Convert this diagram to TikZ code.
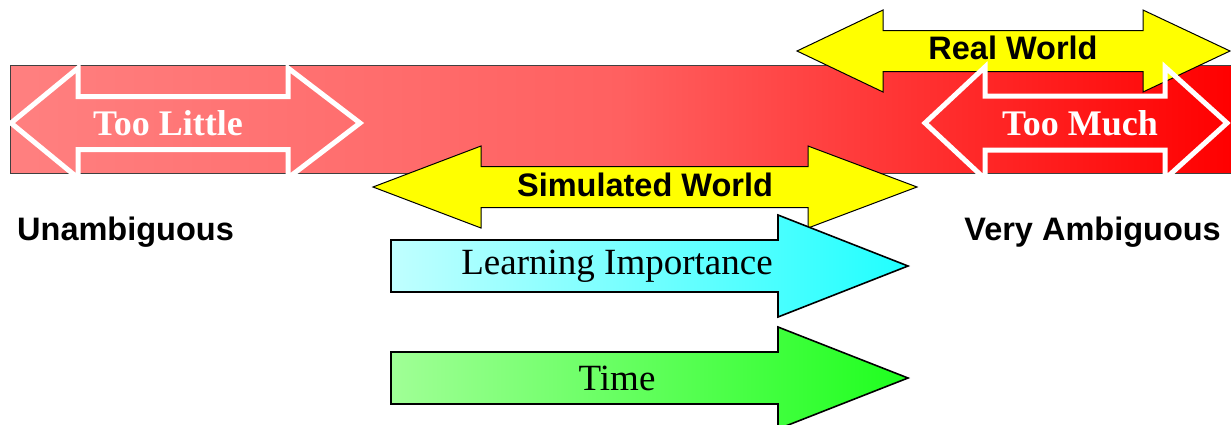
\documentclass[tikz,border=0pt]{standalone}
\usepackage{fontspec}
\usepackage{xcolor}
\usepackage{tikz}
\usetikzlibrary{positioning,calc}
\newfontfamily\labelsans{Liberation Sans}
\newfontfamily\labelserif{Liberation Serif}
\definecolor{barlight}{RGB}{255,128,128}
\definecolor{barmid}{RGB}{255,96,96}
\definecolor{cyanlight}{RGB}{192,255,255}
\definecolor{cyandeep}{RGB}{32,255,255}
\definecolor{greenlight}{RGB}{160,255,150}
\definecolor{greendeep}{RGB}{30,255,30}
\definecolor{worldyellow}{RGB}{255,255,0}

\begin{document}
\begin{tikzpicture}[x=1pt, y=-1pt,
    scalebar/.style={draw=black!75, line width=1pt},
    outline/.style={draw=white, line width=5pt, line join=miter},
    world/.style={fill=worldyellow, draw=black, line width=1pt},
    trend/.style={draw=black, line width=1.6pt},
    whitelabel/.style={text=white, font=\labelserif\bfseries\fontsize{36}{40}\selectfont},
    worldlabel/.style={font=\labelsans\bfseries\fontsize{32.5}{36}\selectfont},
    trendlabel/.style={font=\labelserif\fontsize{37}{42}\selectfont},
]
\useasboundingbox (0,0) rectangle (1231,424);

% Ambiguity scale
\shade[scalebar, left color=barlight, right color=red, middle color=barmid] (10,65) rectangle (1232,173);

% Too little
\draw[outline] (11,123) -- (78,68) -- (78,96.5) -- (288,96.5) -- (288,68) -- (360,123)
    -- (288,178) -- (288,149.5) -- (78,149.5) -- (78,178) -- cycle;

% Real world
\draw[world] (797,51) -- (883,10) -- (883,30.5) -- (1143,30.5) -- (1143,10) -- (1230,51)
    -- (1143,92) -- (1143,71.5) -- (883,71.5) -- (883,92) -- cycle;

% Too much
\draw[outline] (925,123) -- (985,67) -- (985,96) -- (1165,96) -- (1165,67) -- (1227,123)
    -- (1165,179) -- (1165,150) -- (985,150) -- (985,179) -- cycle;

% Simulated world
\draw[world] (373,187) -- (481,146) -- (481,166.5) -- (808,166.5) -- (808,146) -- (917,187)
    -- (808,228) -- (808,207.5) -- (481,207.5) -- (481,228) -- cycle;

% Learning importance and time
\shade[trend, left color=cyanlight, right color=cyandeep] (391,240) -- (778,240) -- (778,215)
    -- (908,266) -- (778,317) -- (778,292) -- (391,292) -- cycle;
\shade[trend, left color=greenlight, right color=greendeep] (391,352) -- (778,352) -- (778,327)
    -- (908,378) -- (778,429) -- (778,404) -- (391,404) -- cycle;

% Labels
\node[whitelabel] (little) at (168,123) {Too Little};
\node[whitelabel] (much) at (1080,123) {Too Much};
\node[worldlabel] (real) at (1013,48) {Real World};
\node[worldlabel] (sim) at (645,185) {Simulated World};
\node[worldlabel, anchor=west, inner sep=0pt] (unamb) at (17,232) {Unambiguous};
\node[worldlabel, anchor=east, inner sep=0pt] (vamb) at (1221,232) {Very Ambiguous};
\node[trendlabel] (learn) at (617,266) {Learning Importance};
\node[trendlabel] (time) at (617,378) {Time};
\end{tikzpicture}
\end{document}
